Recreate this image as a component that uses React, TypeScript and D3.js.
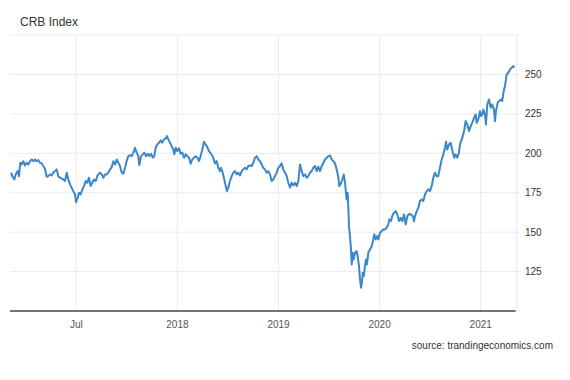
import React from "react";
import * as d3 from "d3";

const title = "CRB Index";
const sourceText = "source: trandingeconomics.com";

// decimal-year dates of observations
const years = [
  2016.354, 2016.367, 2016.387, 2016.400, 2016.420, 2016.433, 2016.446, 2016.460, 2016.476, 2016.492,
  2016.509, 2016.525, 2016.542, 2016.559, 2016.574, 2016.591, 2016.608, 2016.624, 2016.641, 2016.658,
  2016.673, 2016.690, 2016.707, 2016.723, 2016.740, 2016.757, 2016.772, 2016.789, 2016.806, 2016.822,
  2016.839, 2016.855, 2016.871, 2016.888, 2016.905, 2016.921, 2016.937, 2016.954, 2016.970, 2016.987,
  2016.997, 2017.014, 2017.026, 2017.043, 2017.059, 2017.076, 2017.093, 2017.109, 2017.125, 2017.142,
  2017.158, 2017.175, 2017.192, 2017.211, 2017.234, 2017.251, 2017.267, 2017.284, 2017.300, 2017.318,
  2017.338, 2017.350, 2017.366, 2017.383, 2017.399, 2017.415, 2017.432, 2017.449, 2017.465, 2017.482,
  2017.498, 2017.514, 2017.531, 2017.548, 2017.564, 2017.580, 2017.597, 2017.613, 2017.623, 2017.640,
  2017.657, 2017.672, 2017.689, 2017.706, 2017.722, 2017.739, 2017.756, 2017.771, 2017.785, 2017.801,
  2017.818, 2017.835, 2017.850, 2017.867, 2017.884, 2017.897, 2017.910, 2017.927, 2017.943, 2017.959,
  2017.969, 2017.983, 2017.999, 2018.016, 2018.032, 2018.048, 2018.065, 2018.082, 2018.098, 2018.115,
  2018.131, 2018.147, 2018.164, 2018.181, 2018.197, 2018.213, 2018.230, 2018.246, 2018.263, 2018.280,
  2018.296, 2018.312, 2018.332, 2018.350, 2018.372, 2018.389, 2018.404, 2018.421, 2018.431, 2018.448,
  2018.464, 2018.478, 2018.490, 2018.503, 2018.520, 2018.537, 2018.553, 2018.570, 2018.586, 2018.602,
  2018.619, 2018.636, 2018.652, 2018.668, 2018.685, 2018.701, 2018.718, 2018.735, 2018.751, 2018.767,
  2018.784, 2018.800, 2018.817, 2018.834, 2018.849, 2018.866, 2018.883, 2018.899, 2018.916, 2018.932,
  2018.948, 2018.965, 2018.982, 2018.998, 2019.015, 2019.031, 2019.047, 2019.064, 2019.081, 2019.097,
  2019.114, 2019.130, 2019.146, 2019.163, 2019.180, 2019.196, 2019.213, 2019.229, 2019.245, 2019.262,
  2019.279, 2019.295, 2019.311, 2019.328, 2019.344, 2019.361, 2019.378, 2019.393, 2019.410, 2019.427,
  2019.444, 2019.460, 2019.477, 2019.492, 2019.509, 2019.526, 2019.542, 2019.559, 2019.575, 2019.591,
  2019.601, 2019.618, 2019.631, 2019.645, 2019.658, 2019.667, 2019.674, 2019.684, 2019.690, 2019.697,
  2019.707, 2019.717, 2019.724, 2019.734, 2019.744, 2019.756, 2019.773, 2019.783, 2019.796, 2019.806,
  2019.816, 2019.823, 2019.833, 2019.843, 2019.855, 2019.865, 2019.875, 2019.888, 2019.905, 2019.922,
  2019.937, 2019.947, 2019.961, 2019.977, 2019.987, 2020.004, 2020.021, 2020.036, 2020.053, 2020.070,
  2020.086, 2020.096, 2020.113, 2020.125, 2020.142, 2020.159, 2020.175, 2020.192, 2020.208, 2020.224,
  2020.241, 2020.258, 2020.276, 2020.296, 2020.310, 2020.330, 2020.340, 2020.350, 2020.367, 2020.383,
  2020.399, 2020.416, 2020.432, 2020.449, 2020.466, 2020.482, 2020.498, 2020.515, 2020.531, 2020.548,
  2020.565, 2020.580, 2020.597, 2020.614, 2020.630, 2020.647, 2020.657, 2020.669, 2020.686, 2020.703,
  2020.713, 2020.729, 2020.739, 2020.752, 2020.768, 2020.785, 2020.795, 2020.812, 2020.828, 2020.838,
  2020.851, 2020.867, 2020.884, 2020.901, 2020.917, 2020.934, 2020.950, 2020.960, 2020.976, 2020.993,
  2021.003, 2021.016, 2021.026, 2021.042, 2021.052, 2021.065, 2021.082, 2021.099, 2021.114, 2021.131,
  2021.141, 2021.151, 2021.168, 2021.184, 2021.201, 2021.213, 2021.227, 2021.240, 2021.257, 2021.273,
  2021.290, 2021.306, 2021.322, 2021.332,
];

// CRB index values
const values = [
  187.7, 185.5, 183.4, 186.6, 188.7, 185.5, 194.0, 192.9, 195.0, 192.3,
  194.0, 192.9, 195.0, 196.1, 195.0, 196.1, 195.0, 195.7, 194.0, 193.6,
  191.9, 190.2, 185.1, 185.5, 186.6, 186.0, 187.7, 188.7, 189.8, 185.5,
  184.5, 183.9, 183.4, 182.4, 187.7, 183.4, 180.3, 178.2, 176.0, 173.9,
  169.0, 171.8, 175.0, 173.9, 177.1, 179.2, 182.4, 181.3, 184.5, 179.2,
  181.3, 183.4, 182.4, 186.0, 187.7, 186.6, 184.5, 186.6, 186.6, 187.9,
  190.1, 191.2, 195.0, 192.9, 196.1, 194.0, 191.9, 187.7, 187.0, 190.8,
  195.0, 198.2, 198.8, 198.2, 200.4, 203.5, 200.4, 198.2, 192.5, 198.2,
  199.3, 200.4, 198.2, 199.7, 198.2, 199.7, 197.2, 198.2, 203.5, 205.6,
  206.7, 208.2, 206.7, 208.8, 209.4, 210.9, 208.8, 206.7, 204.5, 202.4,
  199.3, 203.5, 201.4, 203.1, 199.7, 200.4, 197.2, 199.3, 198.2, 197.2,
  193.4, 196.1, 197.2, 198.2, 197.2, 195.0, 198.2, 202.4, 207.3, 205.6,
  203.9, 201.4, 199.7, 198.0, 193.6, 195.0, 190.8, 188.7, 190.8, 187.7,
  183.4, 179.2, 176.0, 178.2, 182.4, 185.5, 187.7, 188.7, 186.6, 187.7,
  186.0, 188.7, 189.8, 190.8, 189.8, 191.9, 192.3, 191.9, 194.0, 197.2,
  198.2, 196.1, 195.0, 192.9, 190.8, 189.8, 187.7, 188.7, 186.6, 182.4,
  183.4, 185.5, 187.7, 190.8, 191.9, 193.6, 189.8, 187.7, 185.5, 181.3,
  178.2, 181.3, 179.6, 181.3, 179.2, 182.4, 192.9, 188.7, 185.5, 186.6,
  184.5, 185.5, 187.7, 188.7, 190.8, 191.9, 188.7, 191.5, 188.7, 191.9,
  194.0, 196.1, 197.2, 198.2, 198.6, 196.1, 195.0, 193.6, 189.8, 185.0,
  179.2, 180.9, 183.4, 186.6, 181.3, 175.0, 170.7, 175.0, 166.5, 153.8,
  147.5, 139.0, 129.5, 137.0, 132.7, 137.0, 138.0, 134.8, 128.5, 120.0,
  114.8, 116.9, 124.3, 122.1, 128.5, 132.7, 129.5, 137.0, 139.0, 141.1,
  145.4, 148.6, 145.4, 147.5, 145.4, 149.6, 150.7, 151.7, 151.7, 152.8,
  154.9, 158.1, 157.0, 160.2, 162.3, 163.3, 161.2, 157.0, 159.1, 157.0,
  161.2, 154.9, 160.6, 161.6, 161.2, 160.0, 156.8, 160.2, 163.3, 165.5,
  169.7, 170.7, 169.7, 173.9, 176.0, 177.1, 176.0, 179.2, 184.5, 187.7,
  185.5, 185.5, 190.8, 196.1, 199.3, 203.5, 207.3, 202.4, 205.6, 206.7,
  203.5, 199.3, 197.2, 199.3, 197.2, 200.4, 205.6, 208.8, 212.0, 215.1,
  220.4, 218.3, 214.1, 217.2, 219.4, 222.5, 224.6, 219.4, 221.5, 226.7,
  223.6, 224.6, 227.8, 224.6, 218.3, 231.0, 234.1, 228.9, 231.0, 227.8,
  220.4, 226.7, 232.1, 233.1, 234.1, 233.1, 239.4, 242.6, 250.0, 251.1,
  253.2, 254.2, 255.3, 254.2,
];

const xDomain = [2016.344, 2021.356];
const yDomain = [100, 275];
const yGridValues = [125, 150, 175, 200, 225, 250, 275];
const yTickValues = [125, 150, 175, 200, 225, 250];
const xTickValues = [2017, 2018, 2019, 2020, 2021];
const xTickLabels = ["Jul", "2018", "2019", "2020", "2021"];

const W = 570;
const H = 380;
const left = 10;
const right = 516.7;
const top = 35;
const bottom = 311;

export default function App() {
  const x = d3.scaleLinear().domain(xDomain).range([left, right]);
  const y = d3.scaleLinear().domain(yDomain).range([bottom, top]);
  const pts = years.map((t, i) => [t, values[i]] as [number, number]);
  const line = d3
    .line<[number, number]>()
    .x((d) => x(d[0]))
    .y((d) => y(d[1]));
  const font = "'Liberation Sans', Arial, sans-serif";
  return (
    <svg
      width={W}
      height={H}
      style={{ position: "absolute", left: 0, top: 0, background: "#fff" }}
      fontFamily={font}
    >
      <rect x={0} y={0} width={W} height={H} fill="#fff" />
      <text x={20} y={26} fontSize={12} fill="#333">
        {title}
      </text>
      {yGridValues.map((v) => (
        <line
          key={"gy" + v}
          x1={left}
          x2={right + 3.5}
          y1={y(v)}
          y2={y(v)}
          stroke="#ebebeb"
          strokeWidth={1}
        />
      ))}
      {xTickValues.map((t) => (
        <line
          key={"gx" + t}
          x1={x(t)}
          x2={x(t)}
          y1={top}
          y2={bottom}
          stroke="#ebebeb"
          strokeWidth={1}
        />
      ))}
      <line x1={right} x2={right} y1={top} y2={bottom} stroke="#e6e6e6" strokeWidth={1} />
      <line x1={right} x2={right + 3.5} y1={bottom} y2={bottom} stroke="#e6e6e6" strokeWidth={1} />
      <path d={line(pts) || ""} fill="none" stroke="#3b87c9" strokeWidth={2} strokeLinejoin="round" />
      <line x1={left} x2={right - 1} y1={bottom} y2={bottom} stroke="#444" strokeWidth={1.5} />
      {yTickValues.map((v) => (
        <text key={"ty" + v} x={525} y={y(v)} dy="0.35em" fontSize={10} fill="#333">
          {v}
        </text>
      ))}
      {xTickValues.map((t, i) => (
        <text
          key={"tx" + t}
          x={x(t)}
          y={328}
          fontSize={10}
          fill="#555"
          textAnchor="middle"
        >
          {xTickLabels[i]}
        </text>
      ))}
      <text x={553} y={349} fontSize={10} fill="#333" textAnchor="end">
        {sourceText}
      </text>
    </svg>
  );
}
